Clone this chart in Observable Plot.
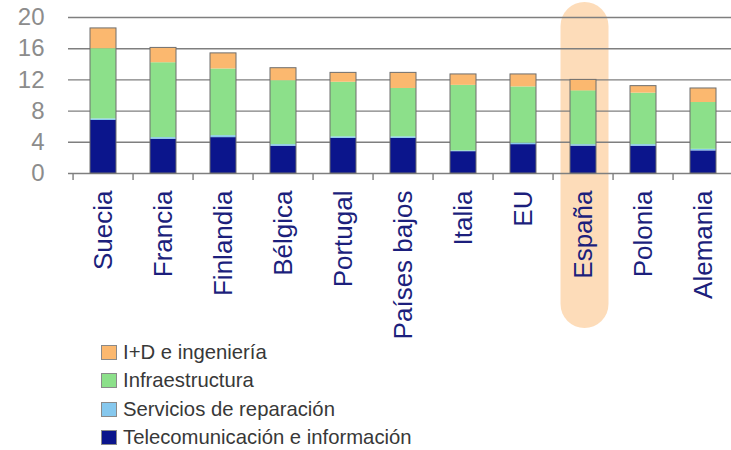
<!DOCTYPE html>
<html>
<head>
<meta charset="utf-8">
<script src="https://cdn.jsdelivr.net/npm/d3@7"></script>
<script src="https://cdn.jsdelivr.net/npm/@observablehq/plot@0.6"></script>
<style>
  html, body { margin: 0; padding: 0; background: #ffffff; }
  body { width: 731px; height: 450px; overflow: hidden; font-family: "Liberation Sans", Arial, sans-serif; }
  #legend { margin-left: 101px; margin-top: 0px; }
  .item { display: flex; align-items: center; height: 28.5px; font-size: 20.3px; color: #383838; }
  .sw { width: 16px; height: 15px; box-sizing: border-box; border: 1px solid #8a8a8a; margin-right: 6px; }
</style>
</head>
<body>
<div id="chart"></div>
<div id="legend"></div>
<script>
const categories = ["Suecia", "Francia", "Finlandia", "Bélgica", "Portugal", "Países bajos", "Italia", "EU", "España", "Polonia", "Alemania"];
const tele      = [6.8, 4.4, 4.6, 3.5, 4.5, 4.5, 2.8, 3.7, 3.5, 3.5, 2.9];
const servicios = [0.2, 0.2, 0.25, 0.2, 0.2, 0.2, 0.1, 0.2, 0.2, 0.2, 0.2];
const infra     = [9.0, 9.6, 8.55, 8.2, 7.0, 6.2, 8.4, 7.2, 6.9, 6.6, 6.0];
const idIng     = [2.6, 1.9, 2.0, 1.6, 1.2, 2.0, 1.4, 1.6, 1.4, 0.9, 1.8];

const seriesNames = ["Telecomunicación e información", "Servicios de reparación", "Infraestructura", "I+D e ingeniería"];
const seriesColors = ["#0b158c", "#86c8ee", "#8ce08a", "#fbb86f"];
const seriesValues = [tele, servicios, infra, idIng];
const yTicks = [0, 4, 8, 12, 16, 20];
const highlight = "España";

const data = [];
categories.forEach((c, i) => {
  seriesNames.forEach((s, k) => data.push({cat: c, series: s, value: seriesValues[k][i]}));
});
const totals = categories.map((c, i) => ({cat: c, total: seriesValues.reduce((a, v) => a + v[i], 0)}));

const font = "'Liberation Sans', Arial, sans-serif";
const step = (737.6 - 68) / categories.length;

const chart = Plot.plot({
  width: 731,
  height: 338,
  marginLeft: 68,
  marginRight: 0,
  marginTop: 17,
  marginBottom: 165,
  style: {fontFamily: font, background: "transparent", overflow: "visible"},
  x: {domain: categories, range: [68, 737.6], paddingInner: 0.57, paddingOuter: 0.285, align: 0.5, axis: null},
  y: {domain: [0, 20], axis: null},
  color: {domain: seriesNames, range: seriesColors},
  marks: [
    Plot.barY([highlight], {x: d => d, y1: 0, y2: 20, fill: "#fddcb9", rx: 24, dx: 1.5,
      insetLeft: -11, insetRight: -11, insetTop: -15, insetBottom: -155}),
    Plot.gridY(yTicks, {stroke: "#7f7f7f", strokeOpacity: 1, strokeWidth: 1.4}),
    Plot.axisY(yTicks, {tickSize: 0, tickPadding: 24, fontSize: 24, fill: "#8c8c8c", label: null}),
    Plot.axisX({tickSize: 7, dx: -step / 2, tickFormat: () => "", stroke: "#7f7f7f", strokeWidth: 1.4, label: null}),
    Plot.barY(data, {x: "cat", y: "value", fill: "series"}),
    Plot.barY(totals, {x: "cat", y: "total", fill: "none", stroke: "#6f6f6f", strokeWidth: 1}),
    Plot.axisX({tickSize: 0, tickRotate: -90, tickPadding: 17, fontSize: 26, fill: "#1c1f7c", label: null})
  ]
});
document.getElementById("chart").appendChild(chart);

const legend = document.getElementById("legend");
[...seriesNames.keys()].reverse().forEach(k => {
  const row = document.createElement("div");
  row.className = "item";
  const sw = document.createElement("span");
  sw.className = "sw";
  sw.style.background = seriesColors[k];
  row.appendChild(sw);
  row.appendChild(document.createTextNode(seriesNames[k]));
  legend.appendChild(row);
});
</script>
</body>
</html>
